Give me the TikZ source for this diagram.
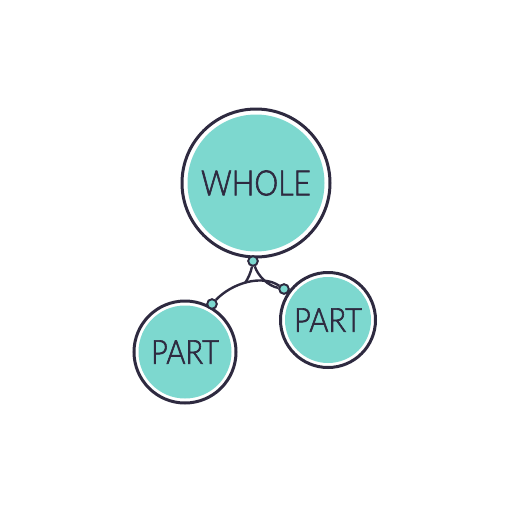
\documentclass[tikz,border=0pt]{standalone}
\usepackage{fontspec}
\setmainfont{Lato}[UprightFont={* Light}, FakeBold=2]
\definecolor{ink}{HTML}{2E2A40}
\definecolor{mint}{HTML}{7DD8CF}
\tikzset{
 bubble/.style 2 args={circle, draw=ink, line width=3pt, fill=white, minimum size=#1, inner sep=0pt,
   path picture={\fill[mint] (path picture bounding box.center) circle (#2);}, text=ink},
 joint/.style={circle, draw=ink, fill=mint, line width=1.8pt, minimum size=9.5pt, inner sep=0pt},
 link/.style={draw=ink, line width=2.4pt}
}
\begin{document}
\begin{tikzpicture}[x=1pt,y=-1pt]
\useasboundingbox (0,0) rectangle (512,512);
\node[bubble={148pt}{68.5pt}, font=\fontsize{35}{35}\selectfont] (whole) at (256,183) {\scalebox{0.86}[1]{WHOLE}};
\node[bubble={102pt}{46.5pt}, font=\fontsize{33}{33}\selectfont] (partl) at (185,352) {\scalebox{0.88}[1]{PART}};
\node[bubble={95pt}{43pt}, font=\fontsize{33}{33}\selectfont] (partr) at (328,320) {\scalebox{0.88}[1]{PART}};
\node[joint] (jw) at (253,261) {};
\node[joint] (jl) at (212,304) {};
\node[joint] (jr) at (284,289) {};
\coordinate (corner) at (245,283);
\draw[link] (jl) .. controls (232,283) and (262,274) .. (jr);
\draw[link] (jw) .. controls (251,272) and (248,279) .. (corner);
\draw[link] (jw) .. controls (258,276) and (268,286) .. (jr);
\node[joint] at (jw) {};
\node[joint] at (jl) {};
\node[joint] at (jr) {};
\end{tikzpicture}
\end{document}
